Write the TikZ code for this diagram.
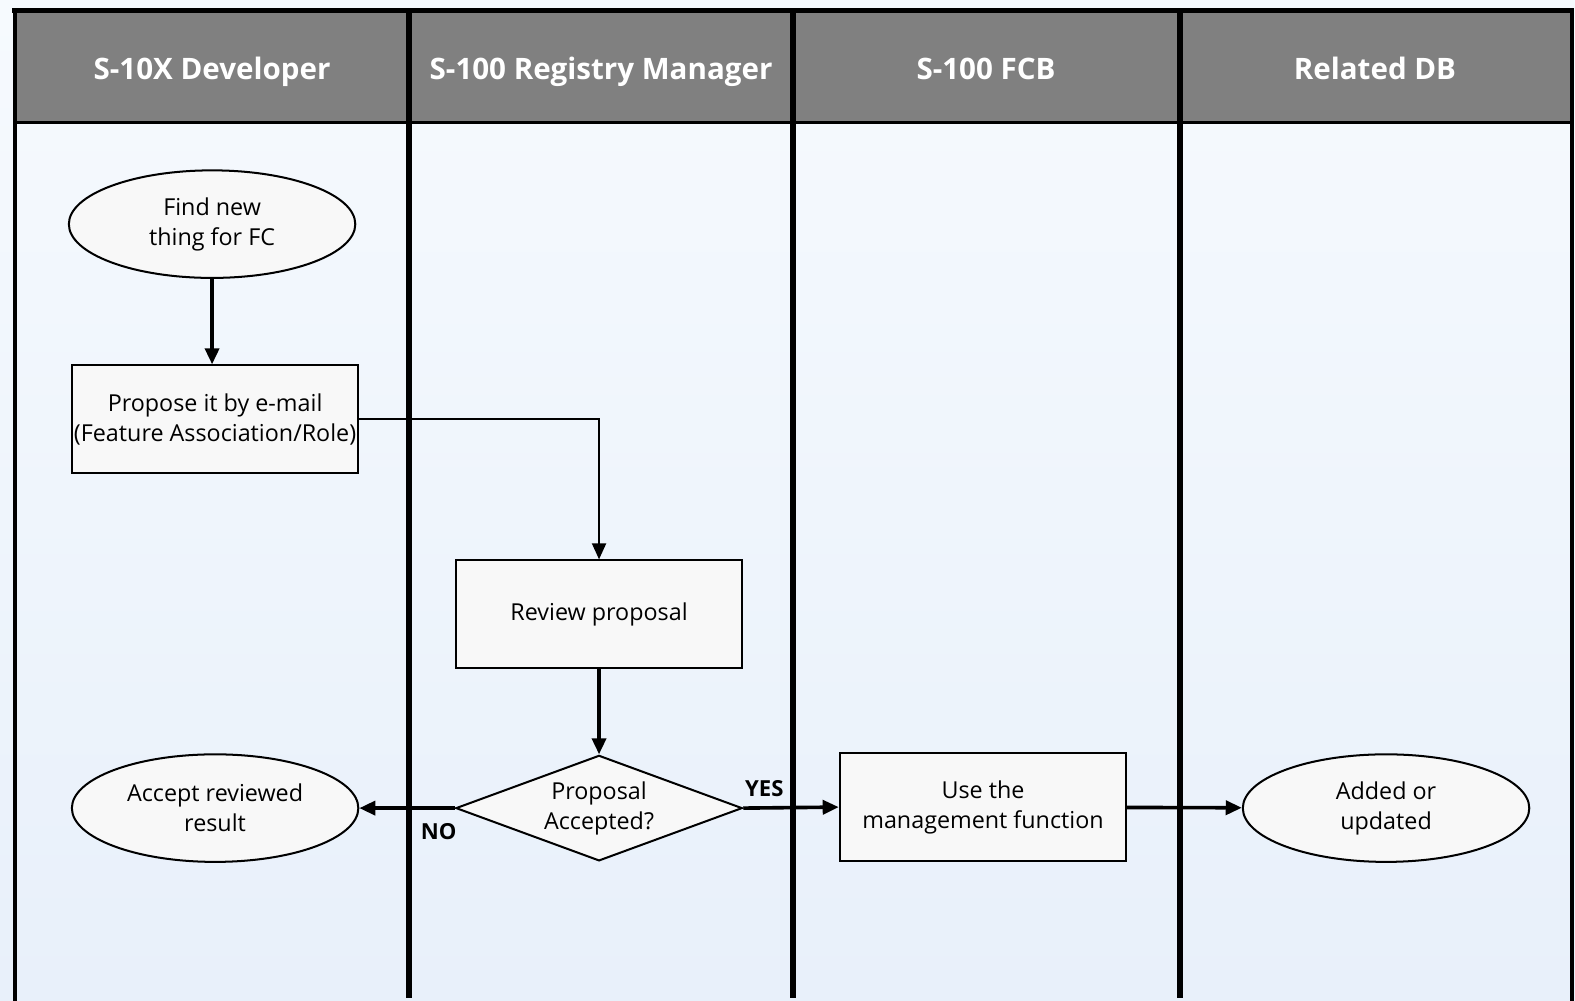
\documentclass[tikz,border=0pt]{standalone}
\usepackage{fontspec}
\setmainfont{Open Sans}
\usetikzlibrary{arrows.meta, positioning, shapes.geometric, calc}
\definecolor{headgray}{RGB}{128,128,128}
\definecolor{nodefill}{RGB}{248,248,248}
\definecolor{bgtop}{RGB}{246,250,254}
\definecolor{bgbottom}{RGB}{232,240,250}
\begin{document}
\begin{tikzpicture}[x=0.5pt,y=-0.5pt,
    every node/.style={font=\fontsize{11.6}{15}\selectfont,align=center},
    box/.style={draw,line width=1pt,fill=nodefill,minimum width=142.5pt,minimum height=53.5pt,inner sep=1pt},
    oval/.style={ellipse,draw,line width=1pt,fill=nodefill,minimum width=142.5pt,minimum height=53.5pt,inner sep=1pt},
    decision/.style={diamond,draw,line width=1pt,fill=nodefill,aspect=3.3,minimum width=141pt,minimum height=52.5pt,inner sep=0pt},
    flow/.style={-{Triangle[length=8pt,width=7pt]},line width=1.8pt},
    lane/.style={line width=3pt},
    lanehead/.style={text=white,font=\fontsize{14.7}{16}\selectfont\bfseries,text height=0.72em,text depth=0.2em},
    answer/.style={font=\fontsize{11}{13}\selectfont\bfseries}]
    % background and lanes
    \useasboundingbox (0,0) rectangle (1567,995);
    \fill[top color=bgtop,bottom color=bgbottom] (0,0) rectangle (1575,1000);
    \fill[headgray] (15,10) rectangle (1563,122);
    \draw[line width=1.2pt] (15,122) -- (1563,122);
    \draw[line width=2.5pt] (12,10.5) -- (1566,10.5);
    \draw[line width=2pt] (15,8) -- (15,1000);
    \draw[line width=2pt] (1564,8) -- (1564,1000);
    \foreach \x in {407,789,1174} {
        \draw[lane] (\x,8) -- (\x,993);
    }
    \foreach \x/\t [count=\i] in {211/S-10X Developer,598/S-100 Registry Manager,981/S-100 FCB,1368/Related DB} {
        \node[lanehead] (head\i) at (\x,74) {\t};
    }
    % steps
    \node[oval] (find) at (211,223) {Find new\\thing for FC};
    \node[box] (propose) at (214,417) {Propose it by e-mail\\(Feature Association/Role)};
    \node[box] (review) at (596,611) {Review proposal};
    \node[decision] (accepted) at (596,804) {Proposal\\Accepted?};
    \node[oval] (result) at (214,804) {Accept reviewed\\result};
    \node[box] (manage) at (978,803) {Use the\\management function};
    \node[oval] (updated) at (1379,804) {Added or\\updated};
    % connectors
    \draw[flow] (find.south) -- (find.south |- propose.north);
    \draw[flow,line width=1pt] (propose.east) -| (review.north);
    \draw[flow] (review) -- (accepted);
    \draw[flow] (accepted.west) -- node[answer,pos=0.17,below=3.5pt] (no) {NO} (result.east);
    \draw[flow] (accepted.east) -- node[answer,pos=0.22,above=1.5pt] (yes) {YES} (manage.west);
    \draw[flow] (manage) -- (updated);
\end{tikzpicture}
\end{document}
